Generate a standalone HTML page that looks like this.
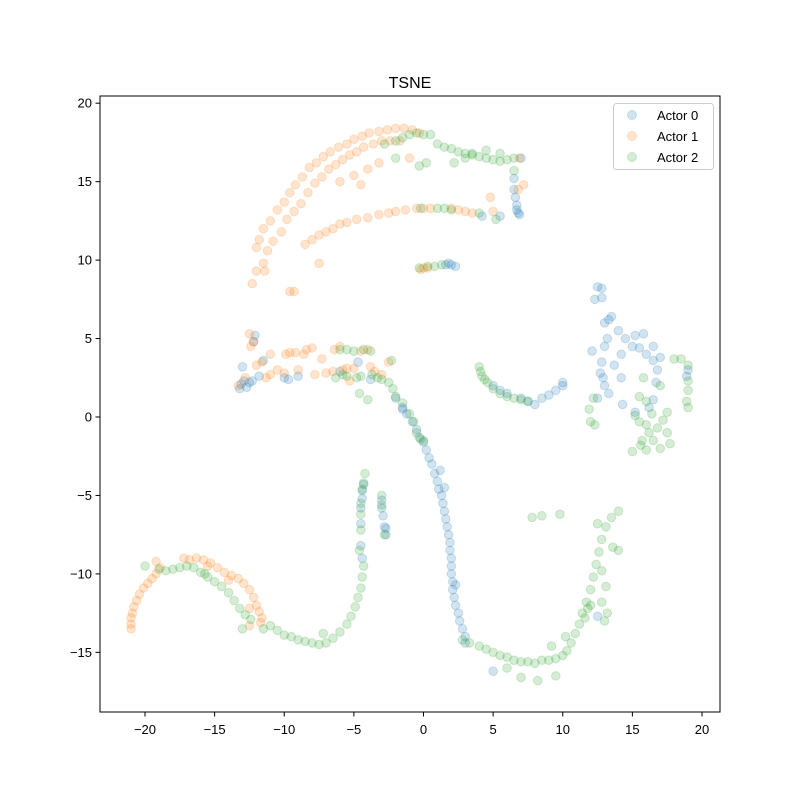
<!DOCTYPE html>
<html><head><meta charset="utf-8"><style>body{margin:0;background:#fff}svg{display:block;font-family:"Liberation Sans","DejaVu Sans",sans-serif}</style></head>
<body>
<svg id="chart" width="800" height="800" viewBox="0 0 800 800">
<rect width="800" height="800" fill="#fff"/>
<text x="410" y="88" text-anchor="middle" font-size="16">TSNE</text>
<g id="points"></g>
<g id="axes"></g>
<rect x="100" y="96" width="620" height="616" fill="none" stroke="#000" stroke-width="1"/>
<g>
<rect x="613.5" y="103.5" width="100" height="66" rx="3" fill="#fff" fill-opacity="0.8" stroke="#ccc"/>
<g><circle cx="632" cy="115" r="4.5" fill="#1f77b4" fill-opacity="0.2" stroke="#1f77b4" stroke-opacity="0.2"/><text x="657" y="120" font-size="13">Actor 0</text></g>
<g><circle cx="632" cy="136" r="4.5" fill="#ff7f0e" fill-opacity="0.2" stroke="#ff7f0e" stroke-opacity="0.2"/><text x="657" y="141" font-size="13">Actor 1</text></g>
<g><circle cx="632" cy="157" r="4.5" fill="#2ca02c" fill-opacity="0.2" stroke="#2ca02c" stroke-opacity="0.2"/><text x="657" y="162" font-size="13">Actor 2</text></g>
</g>
</svg>
<script>
const xTicks=[-20,-15,-10,-5,0,5,10,15,20];
const yTicks=[-15,-10,-5,0,5,10,15,20];
const actor0=[[-13.2,1.8],[-13.1,2.1],[-12.9,2.3],[-12.5,2.2],[-12.7,1.9],[-13,3.2],[-12.3,2.3],[-11.8,2.6],[-11.5,3.6],[-12.2,4.8],[-12.1,5.2],[-10,2.5],[-9.7,2.4],[-9,2.6],
[-2,1.2],[-1.5,0.6],[-1.2,0.2],[-0.8,-0.3],[-0.5,-0.8],[-0.3,-1.3],[0,-1.6],[0.2,-2.1],[0.4,-2.6],[0.6,-3],[0.8,-3.6],[1,-4.1],[1.1,-4.6],[1.3,-5],[1.4,-5.5],[1.5,-6],[1.6,-6.5],[1.7,-7],[1.8,-7.5],[1.9,-8],[1.9,-8.5],[2,-9],[2,-9.5],[2,-10],[2.1,-10.5],[2.1,-11],[2.2,-11.5],[2.3,-12],[2.5,-12.5],[2.6,-13],[2.8,-13.5],[3,-14],[1.5,-4.5],[1.2,-3.4],[2.3,-10.7],
[5,-16.2],[3,-14.4],[12.5,-12.7],[1.6,9.7],[2,9.7],[2.3,9.6],[1.8,9.8],
[6.5,14.5],[6.6,14],[6.7,13.5],[6.8,13],[6.7,13.2],[6.9,12.9],[6.5,15.2],[5.5,12.8],[4.2,12.8],[7,16.5],
[5,2],[5.5,1.7],[6,1.5],[7,1.2],[7.5,1],[8,0.8],[8.5,1.2],[9,1.4],[9.5,1.7],[10,2],[10,2.2],
[12.3,7.5],[12.5,8.3],[12.8,8.2],[12.8,7.6],[13,6],[13.3,6.2],[13.5,6.4],[13.2,5],[13,4.5],[12.8,3.5],[12.9,2.5],[13,2],[13.3,1.5],[12.5,1.2],[12.7,2.8],[12.1,4.2],[14,5.5],[14.5,5],[15,4.5],[15.5,4.4],[16,4],[16.5,3.6],[16.8,3],[16.7,2.2],[16.5,1.1],[16.2,0.6],[15.2,5.2],[15.8,5.3],[16.5,4.5],[17,3.8],[14.2,4],[13.7,3.3],[14.2,2.5],[19,3],[18.9,2.6],[14.3,0.8],[15.2,0.3],
[-4.4,-4.7],[-4.4,-5.2],[-4.5,-5.8],[-4.5,-6.8],[-4.5,-8.2],[-4.4,-9],[-4.3,-4.3],[-3,-5.3],[-3,-5.8],[-2.9,-6.3],[-2.8,-7],[-2.7,-7.5],[-2.7,-7.1],
[-4.7,3.5],[-6,2.9],[-3.8,2.4],[-1.5,0.5]];
const actor1=[[-12,10.8],[-11.8,11.3],[-11.5,12],[-11,12.5],[-10.5,13.2],[-10,13.7],[-9.6,14.3],[-9.2,14.8],[-8.7,15.3],[-8.2,15.9],[-7.7,16.2],[-7.2,16.6],[-6.7,16.9],[-6.1,17.2],[-5.5,17.4],[-5,17.7],[-4.4,17.9],[-3.9,18.1],[-3.2,18.2],[-2.6,18.3],[-2,18.4],[-1.4,18.4],[-0.8,18.3],[-0.3,18.1],
[-12,9.3],[-11.5,9.8],[-11.2,10.6],[-10.8,11.2],[-10.2,11.8],[-9.8,12.6],[-9.3,13.1],[-8.8,13.6],[-8.3,14.3],[-7.8,14.9],[-7.3,15.3],[-6.8,15.8],[-6.3,16.1],[-5.8,16.4],[-5.3,16.7],[-4.8,16.9],[-4.3,17.2],[-3.6,17.4],[-3,17.6],[-2.4,17.6],[-1.7,17.6],[-6,15],[-5,15.4],[-4,15.8],[-3.2,16.2],[-4.5,14.8],[-1,16.5],[-12.3,8.5],[-11.4,9.3],
[-8.5,11],[-8,11.3],[-7.5,11.6],[-7,11.8],[-6.5,12],[-6,12.3],[-5.5,12.4],[-4.8,12.6],[-4,12.7],[-3.2,12.9],[-2.5,13],[-2,13.1],[-1.3,13.2],[-0.5,13.3],[0,13.3],[0.5,13.3],[2,13.3],[2.5,13.2],[3,13.1],[3.5,13],[5,13.1],[4.8,14],[6.8,14.5],[7.2,14.8],[6.9,16.5],[-7.5,9.8],[-9.6,8],[-9.3,8],
[0,9.5],[0.3,9.5],[-0.2,9.4],
[-12.5,5.3],[-12.2,4.8],[-12.4,4.5],[-12,3.3],[-11.6,3.5],[-11,2.7],[-11,4],[-10.5,3],[-10,2.8],[-9.6,4.1],[-9.2,4.1],[-9,3],[-8.6,4],[-8.4,4.3],[-8,4.4],[-7.8,2.7],[-7,2.8],[-6.5,2.9],[-5.8,3],[-5.5,3.1],[-5,3.1],[-4.5,4.2],[-4,4.3],[-3.5,2.9],[-3,2.7],[-2.5,3.5],[-12.8,2.5],[-13.3,2],[-11.3,2.5],[-6.4,4.3],[-7.3,3.7],[-3.8,3.2],[-5.3,2.3],[-6,4.5],[-9.9,4],
[-21,-13.5],[-21,-13.2],[-21,-12.8],[-20.9,-12.5],[-20.8,-12.1],[-20.6,-11.7],[-20.4,-11.3],[-20.1,-10.9],[-19.8,-10.6],[-19.5,-10.3],[-19.2,-10],[-18.9,-9.6],[-19.2,-9.2],[-17.2,-9],[-16.8,-9.1],[-16.3,-9],[-15.8,-9.1],[-15.3,-9.3],[-14.8,-9.6],[-14.3,-9.9],[-13.8,-10.1],[-13.3,-10.3],[-12.9,-10.6],[-12.5,-11],[-12.2,-11.5],[-12,-12],[-11.8,-12.4],[-11.6,-12.8],[-12.5,-13.3],[-11.7,-13.1],[-12.5,-12.2],[-15.5,-9.5],[-14,-10.4]];
const actor2=[[-2.8,17.4],[-2,17.6],[-1.5,17.8],[-1,18],[-0.5,18.1],[0,18],[0.5,18],[1,17.4],[1.5,17.2],[2,17.1],[2.5,16.9],[3,16.8],[3.5,16.7],[4,16.6],[4.5,16.5],[5,16.4],[5.5,16.3],[6,16.4],[6.5,16.5],[3,16.5],[2.2,16.2],[3.5,16.8],[4.5,17],[5.5,16.8],[0.2,16.2],[-0.3,16],[-2,16.5],[6.5,15.7],[1,13.3],[1.5,13.3],[2,13.2],[-0.2,13.3],[4,13],[5.2,12.6],
[-0.3,9.5],[0.3,9.6],[0.8,9.6],[1.3,9.7],
[-6,4.3],[-5.5,4.3],[-5,4.2],[-4.3,4.3],[-3.8,4.2],[-5.8,2.7],[-5.5,2.6],[-4.8,2.5],[-4.5,2.6],[-3.7,2.7],[-3.3,2.5],[-3,2.4],[-2.5,2.2],[-2.2,1.8],[-2,1.3],[-1.5,0.9],[-1,0.2],[-0.7,-0.3],[-0.5,-1],[-0.2,-1.4],[0,-1.5],[-4.6,1.5],[-4,1.1],[-2.3,3.6],[-6.3,2.5],
[4,3.2],[4.1,2.9],[4.2,2.6],[4.4,2.4],[4.6,2.2],[5,1.8],[5.5,1.5],[6,1.3],[6.5,1.2],[7,1.1],[7.5,1],
[-4.2,-3.6],[-4.3,-4.2],[-4.4,-4.6],[-4.5,-5.5],[-4.5,-6.2],[-4.5,-7.2],[-4.6,-8.5],[-3,-5],[-3,-5.6],[-2.8,-7.5],
[-20,-9.5],[-19,-9.7],[-18.5,-9.8],[-18,-9.7],[-17.5,-9.6],[-17,-9.5],[-16.5,-9.6],[-16,-9.9],[-15.5,-10.2],[-15,-10.5],[-14.5,-10.8],[-14,-11.2],[-13.6,-11.7],[-13.2,-12.2],[-12.8,-12.6],[-12.4,-12.9],[-11.5,-13.5],[-11,-13.3],[-10.5,-13.6],[-10,-13.9],[-9.5,-14],[-9,-14.2],[-8.5,-14.3],[-8,-14.4],[-7.5,-14.5],[-7,-14.4],[-6.5,-14.1],[-6,-13.7],[-5.5,-13.2],[-5.2,-12.7],[-4.9,-12.1],[-4.7,-11.5],[-4.5,-10.9],[-4.4,-10.2],[-4.3,-9.5],[-7.2,-13.8],[-15.7,-10],[-13,-13.5],
[2.8,-14.2],[3.3,-14.4],[4,-14.6],[4.5,-14.8],[5,-15],[5.5,-15.2],[6,-15.3],[6.5,-15.5],[7,-15.6],[7.5,-15.6],[8,-15.7],[8.5,-15.5],[9,-15.5],[9.5,-15.4],[10,-15.2],[10.3,-14.9],[10.6,-14.4],[10.9,-13.8],[11.2,-13.2],[11.4,-12.5],[11.7,-11.8],[12,-11],[12.2,-10.2],[12.4,-9.4],[12.6,-8.6],[12.8,-7.8],[13.1,-7],[13.5,-6.4],[14,-6],[12.5,-6.8],[13.6,-8.3],[14,-8.5],[12.8,-9.8],[13.1,-10.8],[12,-12],[11.6,-12.8],[10.2,-14],[9.2,-14.6],[7,-16.6],[8.2,-16.8],[9.5,-16.5],[6,-16],[11.8,-12.2],[12.8,-11.8],[13.2,-12.5],[7.8,-6.4],[8.5,-6.3],[9.8,-6.2],[13,-13],
[15.2,0.1],[15.5,-0.3],[16,-0.5],[16.2,-1],[16.5,-1.5],[17,-2],[16.8,-0.7],[17.2,-0.2],[17.5,-1],[17.7,-1.7],[16.4,0.2],[15.7,-1.5],[15,-2.2],[15.6,-1.8],[16,-2.1],[12,-0.3],[11.9,0.5],[12.2,1.2],[12.3,-0.5],[16,1],[18,3.7],[18.5,3.7],[19,3.3],[19,2.3],[19,1.7],[18.9,1],[19,0.6],[17,2],[15.8,2.5],[15.5,1.3],[17.5,0.3]];
const NS='http://www.w3.org/2000/svg';
function sx(x){return 423.5+x*13.925;}
function sy(y){return 417-y*15.69;}
const pts=document.getElementById('points');
[[actor0,'#1f77b4','actor-0'],[actor1,'#ff7f0e','actor-1'],[actor2,'#2ca02c','actor-2']].forEach(s=>{
 s[0].forEach(p=>{
  const c=document.createElementNS(NS,'circle');
  
  
  c.setAttribute('cx',sx(p[0]));c.setAttribute('cy',sy(p[1]));c.setAttribute('r',4.3);
  c.setAttribute('fill',s[1]);c.setAttribute('fill-opacity',0.2);
  c.setAttribute('stroke',s[1]);c.setAttribute('stroke-opacity',0.2);
  pts.appendChild(c);
 });
});
const ax=document.getElementById('axes');
xTicks.forEach(t=>{
 const x=sx(t);
 const l=document.createElementNS(NS,'line');
 
 
 l.setAttribute('x1',x);l.setAttribute('x2',x);l.setAttribute('y1',712);l.setAttribute('y2',716.5);l.setAttribute('stroke','#000');
 ax.appendChild(l);
 const tx=document.createElementNS(NS,'text');
 
 
 tx.setAttribute('x',x);tx.setAttribute('y',734);tx.setAttribute('text-anchor','middle');tx.setAttribute('font-size','13');
 tx.textContent=t<0?'\u2212'+(-t):String(t);
 ax.appendChild(tx);
});
yTicks.forEach(t=>{
 const y=sy(t);
 const l=document.createElementNS(NS,'line');
 
 
 l.setAttribute('x1',95.5);l.setAttribute('x2',100);l.setAttribute('y1',y);l.setAttribute('y2',y);l.setAttribute('stroke','#000');
 ax.appendChild(l);
 const tx=document.createElementNS(NS,'text');
 
 
 tx.setAttribute('x',92);tx.setAttribute('y',y+4.5);tx.setAttribute('text-anchor','end');tx.setAttribute('font-size','13');
 tx.textContent=t<0?'\u2212'+(-t):String(t);
 ax.appendChild(tx);
});
</script>
</body></html>
